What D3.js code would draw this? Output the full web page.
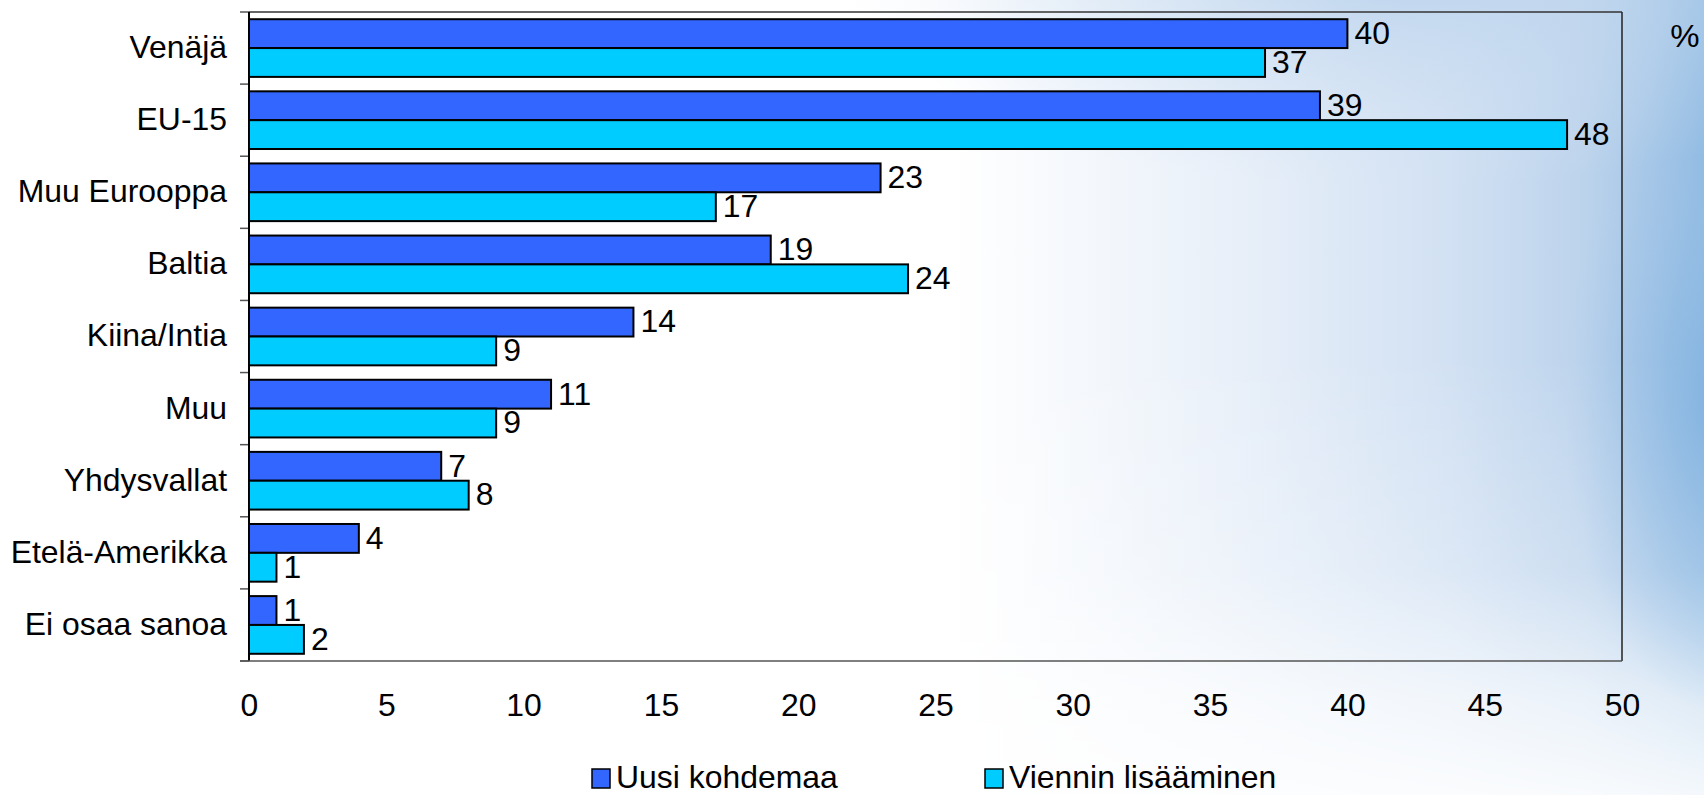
<!DOCTYPE html>
<html>
<head>
<meta charset="utf-8">
<script src="https://cdn.jsdelivr.net/npm/d3@7"></script>
<style>
  html, body { margin: 0; padding: 0; background: #ffffff; }
  svg { display: block; }
  text { font-family: "Liberation Sans", Arial, sans-serif; fill: #000; }
</style>
</head>
<body>
<svg id="chart" width="1704" height="795"></svg>
<script>
const categories = ["Venäjä", "EU-15", "Muu Eurooppa", "Baltia", "Kiina/Intia", "Muu", "Yhdysvallat", "Etelä-Amerikka", "Ei osaa sanoa"];
const seriesNames = ["Uusi kohdemaa", "Viennin lisääminen"];
const uusiKohdemaa = [40, 39, 23, 19, 14, 11, 7, 4, 1];
const vienninLisaaminen = [37, 48, 17, 24, 9, 9, 8, 1, 2];
const xTicks = [0, 5, 10, 15, 20, 25, 30, 35, 40, 45, 50];
const unitLabel = "%";
const seriesColors = ["#3366ff", "#00ccff"];

const W = 1704, H = 795;
const m = { left: 249, right: 1622, top: 12, bottom: 661 };
const FS = 31;
const SX = 1.03;

const svg = d3.select("#chart");
const defs = svg.append("defs");

// horizontal wash
const lgH = defs.append("linearGradient").attr("id", "bgH")
  .attr("gradientUnits", "userSpaceOnUse").attr("x1", 0).attr("x2", W).attr("y1", 0).attr("y2", 0);
[[0, "#ffffff"], [0.56, "#ffffff"], [0.72, "#e9f0f9"], [0.85, "#d2e1f3"], [0.93, "#bcd3ec"], [0.97, "#a5c6e7"], [1, "#8fbae2"]]
  .forEach(([o, c]) => lgH.append("stop").attr("offset", o).attr("stop-color", c));
// vertical fade mask
const lgV = defs.append("linearGradient").attr("id", "bgV")
  .attr("gradientUnits", "userSpaceOnUse").attr("x1", 0).attr("x2", 0).attr("y1", 0).attr("y2", H);
[[0, 1], [0.45, 1], [0.72, 0.75], [0.88, 0.3], [1, 0.1]]
  .forEach(([o, a]) => lgV.append("stop").attr("offset", o).attr("stop-color", "#fff").attr("stop-opacity", a));
const mask = defs.append("mask").attr("id", "fadeMask");
mask.append("rect").attr("width", W).attr("height", H).attr("fill", "url(#bgV)");

// right-edge strong blue
const rg = defs.append("radialGradient").attr("id", "bgR")
  .attr("gradientUnits", "userSpaceOnUse")
  .attr("cx", 1720).attr("cy", 400).attr("r", 260)
  .attr("gradientTransform", "translate(1720,400) scale(0.6,1.2) translate(-1720,-400)");
rg.append("stop").attr("offset", 0).attr("stop-color", "#7fb1df").attr("stop-opacity", 0.9);
rg.append("stop").attr("offset", 0.5).attr("stop-color", "#94bde4").attr("stop-opacity", 0.5);
rg.append("stop").attr("offset", 1).attr("stop-color", "#a9c9ea").attr("stop-opacity", 0);

// top wash
const rg2 = defs.append("radialGradient").attr("id", "bgT")
  .attr("gradientUnits", "userSpaceOnUse")
  .attr("cx", 1400).attr("cy", -30).attr("r", 400)
  .attr("gradientTransform", "translate(1400,-30) scale(1.4,0.55) translate(-1400,30)");
rg2.append("stop").attr("offset", 0).attr("stop-color", "#b9d2ec").attr("stop-opacity", 0.9);
rg2.append("stop").attr("offset", 1).attr("stop-color", "#d6e4f4").attr("stop-opacity", 0);

svg.append("rect").attr("width", W).attr("height", H).attr("fill", "#ffffff");
svg.append("rect").attr("width", W).attr("height", H).attr("fill", "url(#bgH)").attr("mask", "url(#fadeMask)");
svg.append("rect").attr("width", W).attr("height", H).attr("fill", "url(#bgT)");
svg.append("rect").attr("width", W).attr("height", H).attr("fill", "url(#bgR)");

// scales
const x = d3.scaleLinear().domain([0, 50]).range([m.left, m.right]);
const y = d3.scaleBand().domain(categories).range([m.top, m.bottom]).paddingInner(0.2).paddingOuter(0.1);
const ySub = d3.scaleBand().domain(seriesNames).range([0, y.bandwidth()]);

// plot frame (top and right)
svg.append("line").attr("x1", m.left).attr("x2", m.right).attr("y1", m.top).attr("y2", m.top)
  .attr("stroke", "#333").attr("stroke-width", 1.5);
svg.append("line").attr("x1", m.right).attr("x2", m.right).attr("y1", m.top).attr("y2", m.bottom)
  .attr("stroke", "#222").attr("stroke-width", 1.5);

// data rows
const rows = categories.map((c, i) => ({ cat: c, vals: [uusiKohdemaa[i], vienninLisaaminen[i]] }));

function stretched(sel, ax, ay) {
  sel.attr("x", 0).attr("y", 0).attr("transform", `translate(${ax},${ay}) scale(${SX},1)`);
  return sel;
}

const g = svg.append("g");
rows.forEach(r => {
  r.vals.forEach((v, si) => {
    const yy = y(r.cat) + ySub(seriesNames[si]);
    g.append("rect")
      .attr("x", x(0)).attr("y", yy)
      .attr("width", x(v) - x(0)).attr("height", ySub.bandwidth())
      .attr("fill", seriesColors[si]).attr("stroke", "#000").attr("stroke-width", 2);
    stretched(g.append("text"), x(v) + 7, yy + ySub.bandwidth() / 2)
      .attr("dominant-baseline", "central")
      .attr("font-size", FS)
      .text(v);
  });
});

// y axis
const yAxis = d3.axisLeft(y).tickSize(0).tickPadding(22);
const yg = svg.append("g").attr("transform", `translate(${m.left},0)`).call(yAxis);
yg.select(".domain").remove();
yg.selectAll("text").attr("font-size", FS).attr("font-family", "Liberation Sans, Arial, sans-serif")
  .attr("fill", "#000").attr("x", -22 / SX).attr("transform", `scale(${SX},1)`);
// boundary ticks between categories
const boundaries = d3.range(categories.length + 1).map(i => m.top + i * y.step());
svg.append("g").selectAll("line").data(boundaries).join("line")
  .attr("x1", m.left - 9).attr("x2", m.left).attr("y1", d => d).attr("y2", d => d)
  .attr("stroke", "#555").attr("stroke-width", 1.5);
svg.append("line").attr("x1", m.left).attr("x2", m.left).attr("y1", m.top).attr("y2", m.bottom)
  .attr("stroke", "#000").attr("stroke-width", 2);

// x axis
const xAxis = d3.axisBottom(x).tickValues(xTicks).tickSize(0).tickPadding(33);
const xg = svg.append("g").attr("transform", `translate(0,${m.bottom})`).call(xAxis);
xg.select(".domain").remove();
xg.selectAll("text").attr("font-size", FS).attr("font-family", "Liberation Sans, Arial, sans-serif")
  .attr("fill", "#000").attr("transform", `scale(${SX},1)`);
svg.append("line").attr("x1", m.left - 9).attr("x2", m.right).attr("y1", m.bottom).attr("y2", m.bottom)
  .attr("stroke", "#555").attr("stroke-width", 1.5);

// unit label
stretched(svg.append("text"), 1685, 36).attr("text-anchor", "middle")
  .attr("dominant-baseline", "central").attr("font-size", 32).text(unitLabel);

// legend
const legendX = [592, 985];
const lg = svg.append("g");
seriesNames.forEach((s, i) => {
  lg.append("rect").attr("x", legendX[i]).attr("y", 769).attr("width", 18).attr("height", 19)
    .attr("fill", seriesColors[i]).attr("stroke", "#000").attr("stroke-width", 1.5);
  stretched(lg.append("text"), legendX[i] + 24, 778)
    .attr("dominant-baseline", "central").attr("font-size", FS).text(s);
});
</script>
</body>
</html>
